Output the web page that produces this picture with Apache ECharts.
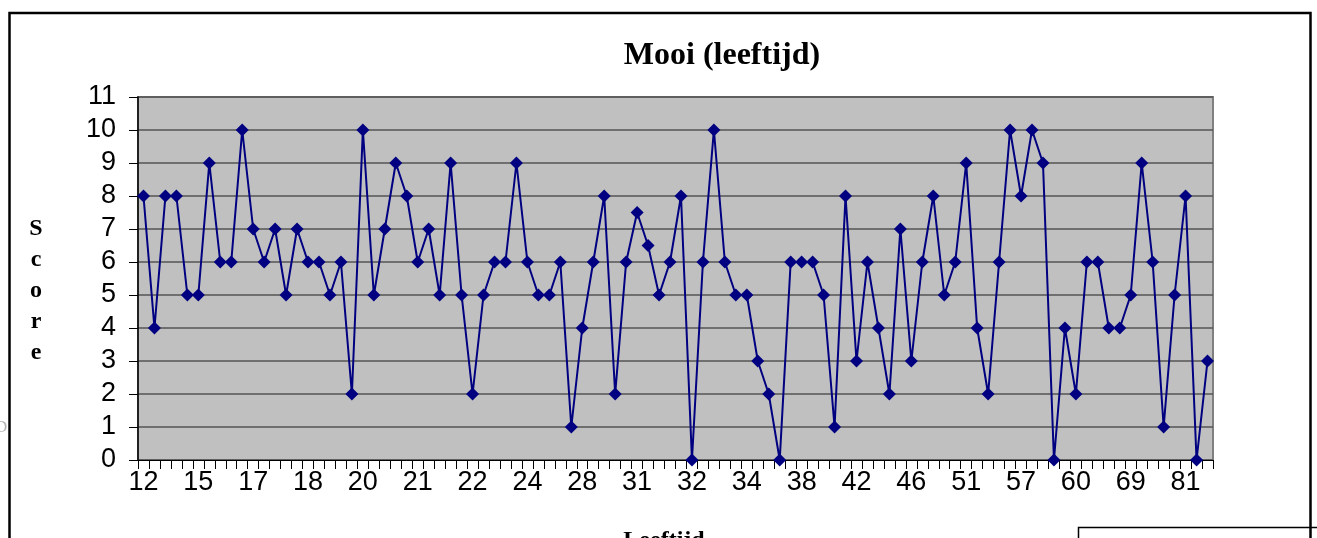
<!DOCTYPE html>
<html>
<head>
<meta charset="utf-8">
<title>Mooi (leeftijd)</title>
<script src="https://cdn.jsdelivr.net/npm/echarts@6/dist/echarts.min.js"></script>
<style>
    html, body { margin: 0; padding: 0; background: #fff; }
    #main { width: 1317px; height: 538px; }
</style>
</head>
<body>
<div id="main"></div>
<script>
// leeftijd per respondent (only every 5th label is printed on the axis, the rest are estimates)
var leeftijd = [
    '12','13','13','14','14', '15','15','16','16','16',
    '17','17','17','17','18', '18','18','19','19','19',
    '20','20','20','20','21', '21','21','21','21','22',
    '22','22','23','23','23', '24','25','26','27','27',
    '28','29','29','30','30', '31','31','31','32','32',
    '32','33','33','33','34', '34','35','36','37','37',
    '38','39','40','41','41', '42','43','44','45','45',
    '46','47','48','49','50', '51','52','53','55','56',
    '57','58','58','59','59', '60','62','64','66','68',
    '69','71','74','77','79', '81','83','86'
];

// score "mooi"
var score = [
    8, 4, 8, 8, 5, 5, 9, 6, 6, 10,
    7, 6, 7, 5, 7, 6, 6, 5, 6, 2,
    10, 5, 7, 9, 8, 6, 7, 5, 9, 5,
    2, 5, 6, 6, 9, 6, 5, 5, 6, 1,
    4, 6, 8, 2, 6, 7.5, 6.5, 5, 6, 8,
    0, 6, 10, 6, 5, 5, 3, 2, 0, 6,
    6, 6, 5, 1, 8, 3, 6, 4, 2, 7,
    3, 6, 8, 5, 6, 9, 4, 2, 6, 10,
    8, 10, 9, 0, 4, 2, 6, 6, 4, 4,
    5, 9, 6, 1, 5, 8, 0, 3
];

var yMin = 0, yMax = 11, yStep = 1;

var sans = 'Liberation Sans, Arial, sans-serif';
var serif = 'Liberation Serif, Times New Roman, serif';

var option = {
    animation: false,
    backgroundColor: '#fff',
    grid: {
        left: 138, right: 104, top: 97, bottom: 78,
        containLabel: false,
        outerBoundsMode: 'none',
        show: true,
        backgroundColor: '#c0c0c0',
        borderColor: '#808080',
        borderWidth: 2
    },
    xAxis: {
        type: 'category',
        data: leeftijd,
        boundaryGap: true,
        axisLine: { show: true, lineStyle: { color: '#000', width: 1 } },
        axisTick: { show: true, interval: 0, length: 9, lineStyle: { color: '#000', width: 1 } },
        axisLabel: { interval: 4, fontSize: 27, color: '#000', fontFamily: sans, margin: 9 },
        splitLine: { show: false }
    },
    yAxis: {
        type: 'value',
        min: yMin, max: yMax, interval: yStep,
        axisLine: { show: true, lineStyle: { color: '#000', width: 1.5 } },
        axisTick: { show: true, length: 9, lineStyle: { color: '#000', width: 1 } },
        axisLabel: { fontSize: 27, color: '#000', fontFamily: sans, margin: 22 },
        splitLine: { show: true, lineStyle: { color: '#555', width: 1.5 } }
    },
    series: [{
        name: 'Mooi',
        type: 'line',
        data: score,
        symbol: 'diamond',
        symbolSize: 13,
        showAllSymbol: true,
        lineStyle: { color: '#000080', width: 2 },
        itemStyle: { color: '#000080' }
    }],
    graphic: [
        // kader rond de grafiek
        { type: 'rect', shape: { x: 9.5, y: 13, width: 1301, height: 600 },
          style: { fill: null, stroke: '#000', lineWidth: 2.5 }, z: 100 },
        // legenda-kader (afgesneden)
        { type: 'rect', shape: { x: 1078.5, y: 527.5, width: 1232, height: 60 },
          style: { fill: '#fff', stroke: '#000', lineWidth: 1.5 }, z: 99 },
        { type: 'text', x: 722, y: 56,
          style: { text: 'Mooi (leeftijd)', font: 'bold 32px ' + serif, fill: '#000',
                   align: 'center', verticalAlign: 'middle' } },
        { type: 'text', x: 36, y: 213,
          style: { text: 'S\nc\no\nr\ne', font: 'bold 24px ' + serif, fill: '#000',
                   lineHeight: 31, align: 'center', verticalAlign: 'top' } },
        { type: 'text', x: 664, y: 529,
          style: { text: 'Leeftijd', font: 'bold 24px ' + serif, fill: '#000',
                   align: 'center', verticalAlign: 'top' } },
        { type: 'text', x: -5, y: 428,
          style: { text: 'D', font: '17px ' + serif, fill: '#b4b4b4',
                   align: 'left', verticalAlign: 'middle' } }
    ]
};

var myChart = echarts.init(document.getElementById('main'));
myChart.setOption(option);
</script>
</body>
</html>
